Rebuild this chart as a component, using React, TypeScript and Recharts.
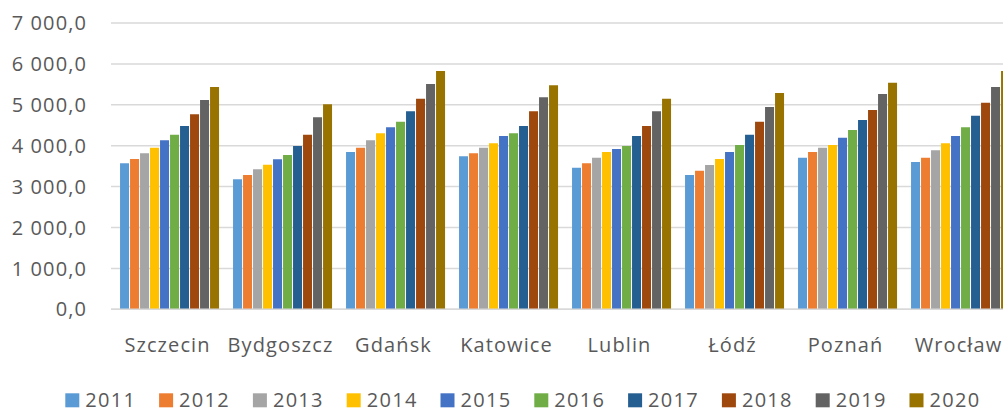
import React from 'react';
import { BarChart, Bar, XAxis, YAxis, CartesianGrid, Legend } from 'recharts';

const cities = ['Szczecin', 'Bydgoszcz', 'Gdańsk', 'Katowice', 'Lublin', 'Łódź', 'Poznań', 'Wrocław'];
const years = ['2011', '2012', '2013', '2014', '2015', '2016', '2017', '2018', '2019', '2020'];
const colors = ['#5B9BD5', '#ED7D31', '#A5A5A5', '#FFC000', '#4472C4', '#70AD47', '#255E91', '#9E480E', '#636363', '#997300'];

const v2011 = [3570, 3178, 3846, 3741, 3462, 3284, 3707, 3601];
const v2012 = [3675, 3284, 3951, 3814, 3570, 3389, 3846, 3707];
const v2013 = [3814, 3423, 4132, 3951, 3707, 3528, 3951, 3887];
const v2014 = [3951, 3535, 4303, 4059, 3846, 3675, 4017, 4059];
const v2015 = [4132, 3667, 4450, 4237, 3919, 3846, 4196, 4237];
const v2016 = [4269, 3773, 4587, 4303, 3993, 4017, 4384, 4450];
const v2017 = [4482, 3993, 4841, 4482, 4237, 4269, 4628, 4733];
const v2018 = [4768, 4269, 5149, 4841, 4482, 4587, 4873, 5051];
const v2019 = [5117, 4694, 5509, 5183, 4841, 4946, 5264, 5435];
const v2020 = [5435, 5012, 5826, 5476, 5149, 5289, 5540, 5826];

const yTicks = [0, 1000, 2000, 3000, 4000, 5000, 6000, 7000];

const series = [v2011, v2012, v2013, v2014, v2015, v2016, v2017, v2018, v2019, v2020];

const data = cities.map((city, i) => {
  const row: Record<string, string | number> = { city };
  years.forEach((y, j) => {
    row[y] = series[j][i];
  });
  return row;
});

const FONT = '"Open Sans", sans-serif';
const TEXT = '#595959';

const fmt = (v: number) => {
  const [int, dec] = v.toFixed(1).split('.');
  return int.replace(/\B(?=(\d{3})+(?!\d))/g, ' ') + ',' + dec;
};

const LegendContent = (props: any) => {
  const payload = props.payload || [];
  return (
    <svg width={1003} height={39} style={{ display: 'block' }}>
      {payload.map((p: any, i: number) => {
        const x = 65.3 + i * 93.8;
        return (
          <g key={p.value}>
            <rect x={x} y={23.3} width={14} height={14} fill={p.color} />
            <text x={x + 20} y={36.8} fill={TEXT} fontSize={20} fontFamily={FONT} letterSpacing={1.3}>
              {p.value}
            </text>
          </g>
        );
      })}
    </svg>
  );
};

export default function App() {
  return (
    <div style={{ position: 'absolute', left: 0, top: 0, width: 1003, height: 409, overflow: 'hidden', background: '#fff' }}>
      <BarChart
        width={1015}
        height={409}
        data={data}
        margin={{ top: 23, right: 0, left: 0, bottom: 15.7 }}
        barCategoryGap="8%"
        barGap={1}
      >
        <CartesianGrid vertical={false} stroke="#D9D9D9" strokeWidth={1.5} />
        <XAxis
          dataKey="city"
          height={45}
          interval={0}
          tickLine={false}
          axisLine={{ stroke: '#D9D9D9', strokeWidth: 1.5 }}
          tickMargin={22.4}
          tick={{ fill: TEXT, fontSize: 20, fontFamily: FONT, letterSpacing: 1.1 }}
        />
        <YAxis
          width={111}
          domain={[0, 7000]}
          ticks={yTicks}
          interval={0}
          tickLine={false}
          axisLine={false}
          tickMargin={18}
          tickFormatter={fmt}
          tick={{ fill: TEXT, fontSize: 20, fontFamily: FONT, letterSpacing: 1.1 }}
        />
        <Legend
          verticalAlign="bottom"
          height={39}
          wrapperStyle={{ left: 0, top: 370, width: 1003, height: 39 }}
          content={<LegendContent />}
        />
        {years.map((y, j) => (
          <Bar key={y} dataKey={y} fill={colors[j]} isAnimationActive={false} />
        ))}
      </BarChart>
    </div>
  );
}
